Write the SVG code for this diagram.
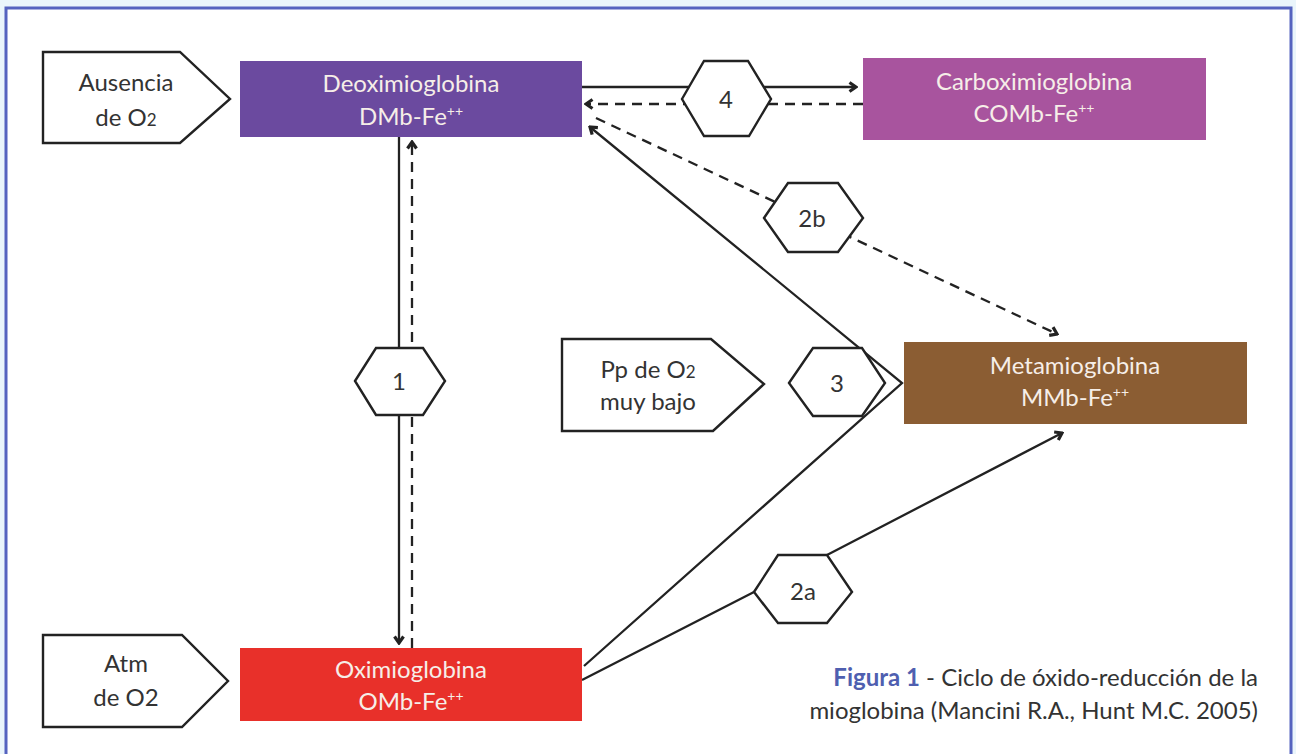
<svg xmlns="http://www.w3.org/2000/svg" width="1296" height="754" viewBox="0 0 1296 754">
<style>
.lbl{font-family:Lato,"Open Sans","Liberation Sans",sans-serif;font-size:24px;fill:#333;text-anchor:middle}
.box{font-family:Lato,"Open Sans","Liberation Sans",sans-serif;font-size:24px;fill:#f6eee8;text-anchor:middle}
.sup{font-size:14px}
.sub{font-size:17px}
.shape{fill:#fff;stroke:#222;stroke-width:2.4}
.ln{fill:none;stroke:#222;stroke-width:2.3}
.dash{fill:none;stroke:#222;stroke-width:2.3;stroke-dasharray:10 7}
.cap{font-family:Lato,"Open Sans","Liberation Sans",sans-serif;font-size:24px;fill:#333;text-anchor:end}
</style>
<defs>
<marker id="chev" viewBox="0 0 12 12" refX="10" refY="6" markerWidth="12" markerHeight="12" markerUnits="userSpaceOnUse" orient="auto">
<path d="M3.5,1.5 L10,6 L3.5,10.5" fill="none" stroke="#222" stroke-width="3.2"/>
</marker>
</defs>
<rect x="0" y="0" width="1296" height="754" fill="#eaf5fb"/>
<rect x="6" y="8" width="1285" height="770" fill="#fff" stroke="#5563bf" stroke-width="3"/>

<g id="connectors">
<line class="ln" x1="582" y1="87" x2="856" y2="87" marker-end="url(#chev)"/>
<line class="dash" x1="863" y1="104" x2="586" y2="104" marker-end="url(#chev)"/>
<line class="ln" x1="399" y1="137" x2="399" y2="643" marker-end="url(#chev)"/>
<line class="dash" x1="412" y1="648" x2="412" y2="142" marker-end="url(#chev)"/>
<polyline class="ln" points="584,666 902,383 590,127" marker-end="url(#chev)"/>
<polyline class="ln" points="582,680 754,592 827,555 1062,433" marker-end="url(#chev)"/>
<line class="dash" x1="596" y1="118" x2="1057" y2="334" marker-end="url(#chev)"/>
</g>

<g id="ausencia">
<polygon class="shape" points="43,52 180,52 230,99 180,143 43,143"/>
<text class="lbl" x="126" y="91">Ausencia</text>
<text class="lbl" x="126" y="126">de O<tspan class="sub">2</tspan></text>
</g>
<g id="atm">
<polygon class="shape" points="43,635 182,635 228,681 182,727 43,727"/>
<text class="lbl" x="126" y="672">Atm</text>
<text class="lbl" x="126" y="706">de O2</text>
</g>
<g id="ppo2">
<polygon class="shape" points="562,339 711,339 764,384 713,431 562,431"/>
<text class="lbl" x="648" y="378">Pp de O<tspan class="sub">2</tspan></text>
<text class="lbl" x="648" y="410">muy bajo</text>
</g>

<g id="deoxi">
<rect x="240" y="61" width="342" height="76" fill="#6b4a9f"/>
<text class="box" x="411" y="92">Deoximioglobina</text>
<text class="box" x="411" y="125">DMb-Fe<tspan class="sup" dy="-9">++</tspan></text>
</g>
<g id="carboxi">
<rect x="863" y="58" width="343" height="82" fill="#a8549e"/>
<text class="box" x="1034" y="90">Carboximioglobina</text>
<text class="box" x="1034" y="122">COMb-Fe<tspan class="sup" dy="-9">++</tspan></text>
</g>
<g id="metamio">
<rect x="904" y="342" width="343" height="82" fill="#8b5d33"/>
<text class="box" x="1075" y="374">Metamioglobina</text>
<text class="box" x="1075" y="406">MMb-Fe<tspan class="sup" dy="-9">++</tspan></text>
</g>
<g id="oximio">
<rect x="240" y="648" width="342" height="73" fill="#e8302a"/>
<text class="box" x="411" y="678">Oximioglobina</text>
<text class="box" x="411" y="710">OMb-Fe<tspan class="sup" dy="-9">++</tspan></text>
</g>

<g id="hex1">
<polygon class="shape" points="355,381 376,348 423,348 445,381 423,415 376,415"/>
<text class="lbl" x="399" y="390">1</text>
</g>
<g id="hex3">
<polygon class="shape" points="789,383 813,348 862,348 885,383 862,416 813,416"/>
<text class="lbl" x="837" y="392">3</text>
</g>
<g id="hex4">
<polygon class="shape" points="682,99 704,61 748,61 771,99 749,136 704,136"/>
<text class="lbl" x="726" y="108">4</text>
</g>
<g id="hex2b">
<polygon class="shape" points="764,218 788,183 838,183 863,218 838,252 788,252"/>
<text class="lbl" x="812" y="227">2b</text>
</g>
<g id="hex2a">
<polygon class="shape" points="754,592 778,555 827,555 852,592 827,623 778,623"/>
<text class="lbl" x="803" y="600">2a</text>
</g>

<g id="caption">
<text class="cap" x="1258" y="686"><tspan fill="#4f5fb0" font-weight="bold">Figura 1</tspan> - Ciclo de óxido-reducción de la</text>
<text class="cap" x="1258" y="719">mioglobina (Mancini R.A., Hunt M.C. 2005)</text>
</g>
</svg>
